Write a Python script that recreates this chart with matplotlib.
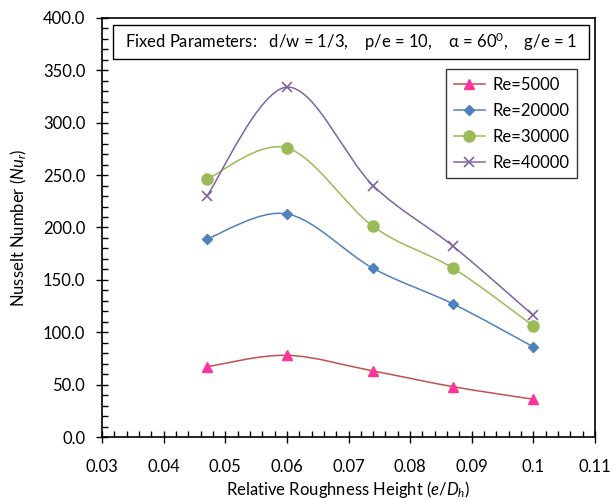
import matplotlib
matplotlib.use("Agg")
import matplotlib.pyplot as plt
from matplotlib.path import Path
from matplotlib.patches import PathPatch, Rectangle
from matplotlib.lines import Line2D
from matplotlib.ticker import MultipleLocator, FormatStrFormatter, FuncFormatter

plt.rcParams['font.family'] = ['Lato', 'DejaVu Sans']
plt.rcParams['mathtext.fontset'] = 'custom'
plt.rcParams['mathtext.rm'] = 'Lato'
plt.rcParams['mathtext.it'] = 'Lato:italic'

# ---- data ----
x_vals = [0.047, 0.060, 0.074, 0.087, 0.100]
re5000 = [67, 78, 63, 48, 36]
re20000 = [189, 213, 161, 127, 86]
re30000 = [246, 276, 201, 161, 106]
re40000 = [230, 334, 240, 182, 116]
labels = ['Re=5000', 'Re=20000', 'Re=30000', 'Re=40000']
x_ticks = [0.03, 0.04, 0.05, 0.06, 0.07, 0.08, 0.09, 0.1, 0.11]
y_ticks = [0, 50, 100, 150, 200, 250, 300, 350, 400]

series = [re5000, re20000, re30000, re40000]
line_colors = ['#C0504D', '#4F81BD', '#9BBB59', '#8064A2']
marker_colors = ['#FF3399', '#4F81BD', '#9BBB59', '#8064A2']
markers = ['^', 'D', 'o', 'x']
msizes = [7.5, 5.5, 8, 7]


def smooth_path(xs, ys, t=1 / 6):
    verts = [(xs[0], ys[0])]
    codes = [Path.MOVETO]
    n = len(xs)
    for i in range(n - 1):
        x0, y0 = xs[max(i - 1, 0)], ys[max(i - 1, 0)]
        x1, y1 = xs[i], ys[i]
        x2, y2 = xs[i + 1], ys[i + 1]
        x3, y3 = xs[min(i + 2, n - 1)], ys[min(i + 2, n - 1)]
        c1 = (x1 + (x2 - x0) * t, y1 + (y2 - y0) * t)
        c2 = (x2 - (x3 - x1) * t, y2 - (y3 - y1) * t)
        verts += [c1, c2, (x2, y2)]
        codes += [Path.CURVE4] * 3
    return Path(verts, codes)


fig = plt.figure(figsize=(6.14, 5.0), dpi=100)
ax = fig.add_axes([102 / 614, 1 - 437 / 500, (595 - 102) / 614, (437 - 18) / 500])

handles = []
for ys, lc, mc, mk, ms, lab in zip(series, line_colors, marker_colors, markers, msizes, labels):
    ax.add_patch(PathPatch(smooth_path(x_vals, ys), fill=False, edgecolor=lc, lw=1.1, zorder=2))
    if mk == 'x':
        ax.plot(x_vals, ys, linestyle='none', marker=mk, markersize=ms, markeredgecolor=mc,
                markeredgewidth=1.2, zorder=3)
    else:
        ax.plot(x_vals, ys, linestyle='none', marker=mk, markersize=ms, markerfacecolor=mc,
                markeredgecolor=mc, zorder=3)
    handles.append(Line2D([], [], color=lc, lw=1.1, marker=mk, markersize=ms,
                          markerfacecolor=mc, markeredgecolor=mc,
                          markeredgewidth=1.2 if mk == 'x' else 1.0))

ax.set_xlim(0.03, 0.11)
ax.set_ylim(0, 400)
ax.set_xticks(x_ticks)
ax.set_yticks(y_ticks)
ax.xaxis.set_major_formatter(FuncFormatter(lambda v, p: ('%.2f' % v).rstrip('0').rstrip('.') if abs(v - 0.1) > 1e-9 else '0.1'))
ax.yaxis.set_major_formatter(FormatStrFormatter('%.1f'))
ax.xaxis.set_minor_locator(MultipleLocator(0.002))
ax.yaxis.set_minor_locator(MultipleLocator(10))
ax.tick_params(which='major', direction='inout', length=8, width=1, labelsize=12, color='black')
ax.tick_params(which='minor', direction='in', length=4, width=1, color='black')
ax.tick_params(axis='x', which='major', pad=12)
ax.tick_params(axis='y', which='major', pad=8)
for s in ax.spines.values():
    s.set_linewidth(1.2)
    s.set_color('black')

ax.set_xlabel('Relative Roughness Height ($\\mathit{e/D_h}$)', fontsize=12, labelpad=3)
ax.set_ylabel('Nusselt Number ($\\mathit{Nu_r}$)', fontsize=12, labelpad=10)

# parameter box
ax.add_patch(Rectangle((11 / 493, (437 - 59) / 419), 476 / 493, 34 / 419, transform=ax.transAxes,
                       fill=True, facecolor='white', edgecolor='black', lw=1.0, zorder=4))
ax.text(23 / 493, (437 - 42) / 419,
        'Fixed Parameters:   d/w = 1/3,    p/e = 10,    α = 60$^{0}$,    g/e = 1',
        transform=ax.transAxes, fontsize=12, va='center', ha='left', zorder=5)

leg = ax.legend(handles, labels, loc='upper left', bbox_to_anchor=((446 - 102) / 493, (437 - 69) / 419),
                borderaxespad=0, frameon=True, fancybox=False, edgecolor='black', fontsize=12,
                handlelength=1.9, labelspacing=0.6, borderpad=0.45, handletextpad=0.45)
leg.get_frame().set_linewidth(1.0)

fig.savefig('out.png', dpi=100)
